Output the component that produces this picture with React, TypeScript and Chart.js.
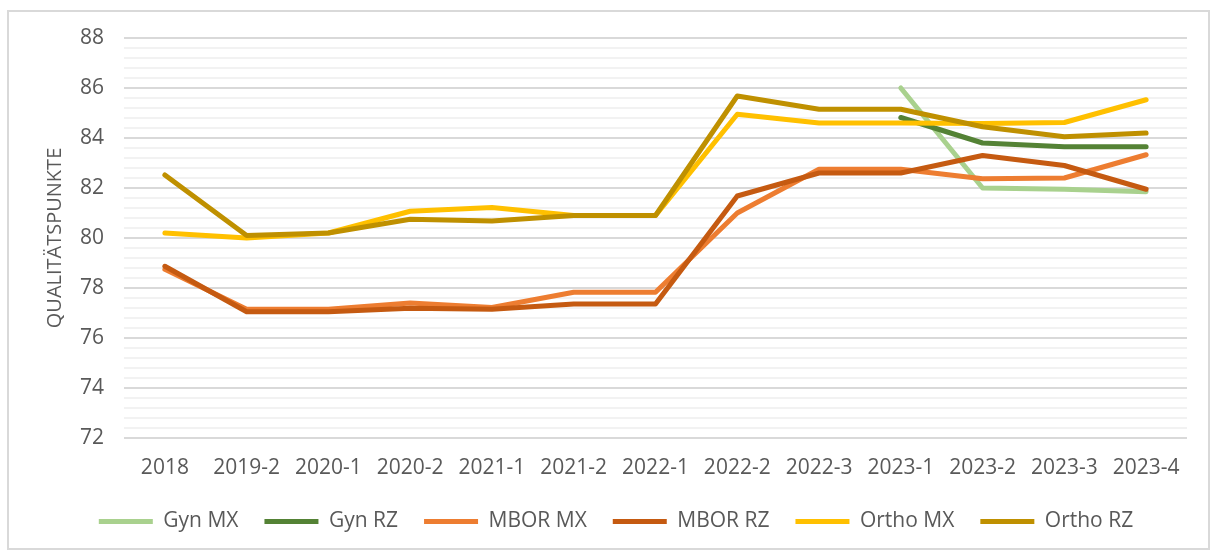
import React, { useEffect, useRef } from "react";
import { Chart, registerables } from "chart.js";

Chart.register(...registerables);

const categories = ["2018", "2019-2", "2020-1", "2020-2", "2021-1", "2021-2", "2022-1", "2022-2", "2022-3", "2023-1", "2023-2", "2023-3", "2023-4"];

const gynMX = [null, null, null, null, null, null, null, null, null, 86.0, 82.0, 81.95, 81.85];
const gynRZ = [null, null, null, null, null, null, null, null, null, 84.82, 83.8, 83.65, 83.65];
const mborMX = [78.75, 77.15, 77.15, 77.4, 77.22, 77.83, 77.83, 81.0, 82.75, 82.75, 82.37, 82.4, 83.33];
const mborRZ = [78.87, 77.05, 77.05, 77.19, 77.15, 77.36, 77.36, 81.68, 82.6, 82.6, 83.3, 82.9, 81.95];
const orthoMX = [80.2, 80.0, 80.2, 81.07, 81.22, 80.9, 80.9, 84.95, 84.6, 84.6, 84.58, 84.62, 85.53];
const orthoRZ = [82.52, 80.1, 80.2, 80.75, 80.68, 80.9, 80.9, 85.68, 85.15, 85.15, 84.45, 84.05, 84.2];

const seriesNames = ["Gyn MX", "Gyn RZ", "MBOR MX", "MBOR RZ", "Ortho MX", "Ortho RZ"];
const seriesValues = [gynMX, gynRZ, mborMX, mborRZ, orthoMX, orthoRZ];
const seriesColors = ["#A9D18E", "#548235", "#ED7D31", "#C55A11", "#FFC000", "#BF9000"];

const yMin = 72;
const yMax = 88;
const yMinorStep = 0.4;
const axisTitle = "QUALITÄTSPUNKTE";

const FONT = "'Open Sans', sans-serif";
const TEXT = "#595959";

const isMajor = (v: number) => Math.abs(v / 2 - Math.round(v / 2)) < 1e-6;

export default function App() {
  const ref = useRef<HTMLCanvasElement | null>(null);

  useEffect(() => {
    if (!ref.current) return;
    const chart = new Chart(ref.current, {
      type: "line",
      data: {
        labels: categories,
        datasets: seriesNames.map((name, i) => ({
          label: name,
          data: seriesValues[i],
          borderColor: seriesColors[i],
          backgroundColor: seriesColors[i],
          borderWidth: 5,
          borderCapStyle: "round",
          borderJoinStyle: "round",
          pointRadius: 0,
          pointHoverRadius: 0,
          tension: 0,
          fill: false,
          order: seriesNames.length - 1 - i,
          pointStyle: "line",
        })),
      },
      options: {
        animation: false,
        responsive: false,
        maintainAspectRatio: false,
        layout: { padding: { top: 38, right: 25, left: 45, bottom: 11 } },
        plugins: {
          tooltip: { enabled: false },
          legend: {
            position: "bottom",
            labels: {
              usePointStyle: true,
              pointStyleWidth: 54,
              padding: 26,
              color: TEXT,
              font: { family: FONT, size: 21 },
              sort: (a: any, b: any) => a.datasetIndex - b.datasetIndex,
            },
          },
        },
        scales: {
          x: {
            offset: true,
            grid: { display: false, drawTicks: false },
            border: { display: false },
            ticks: {
              color: TEXT,
              font: { family: FONT, size: 21 },
              padding: 17,
              maxRotation: 0,
              autoSkip: false,
            },
            afterFit: (s: any) => {
              s.height = 47;
            },
          },
          y: {
            min: yMin,
            max: yMax,
            grid: {
              drawTicks: false,
              lineWidth: 2,
              color: (ctx: any) => (isMajor(ctx.tick.value) ? "#D9D9D9" : "#F2F2F2"),
            },
            border: { display: false },
            ticks: {
              stepSize: yMinorStep,
              autoSkip: false,
              color: TEXT,
              font: { family: FONT, size: 21 },
              padding: 20,
              callback: (v: any) => (isMajor(Number(v)) ? String(Math.round(Number(v))) : ""),
            },
            title: {
              display: true,
              text: axisTitle,
              color: TEXT,
              font: { family: FONT, size: 20, weight: "normal", lineHeight: 1.0 },
              padding: { top: 0, bottom: 0 },
            },
            afterFit: (s: any) => {
              s.width = 79;
            },
          },
        },
      },
    });
    return () => chart.destroy();
  }, []);

  return (
    <div style={{ position: "fixed", left: 0, top: 0, width: 1212, height: 553, background: "#fff" }}>
      <canvas ref={ref} width={1212} height={553} style={{ position: "absolute", left: 0, top: 0, width: 1212, height: 553 }} />
      <div
        style={{
          position: "absolute",
          left: 7,
          top: 10,
          width: 1203,
          height: 540,
          border: "2px solid #D9D9D9",
          boxSizing: "border-box",
          pointerEvents: "none",
        }}
      />
    </div>
  );
}
